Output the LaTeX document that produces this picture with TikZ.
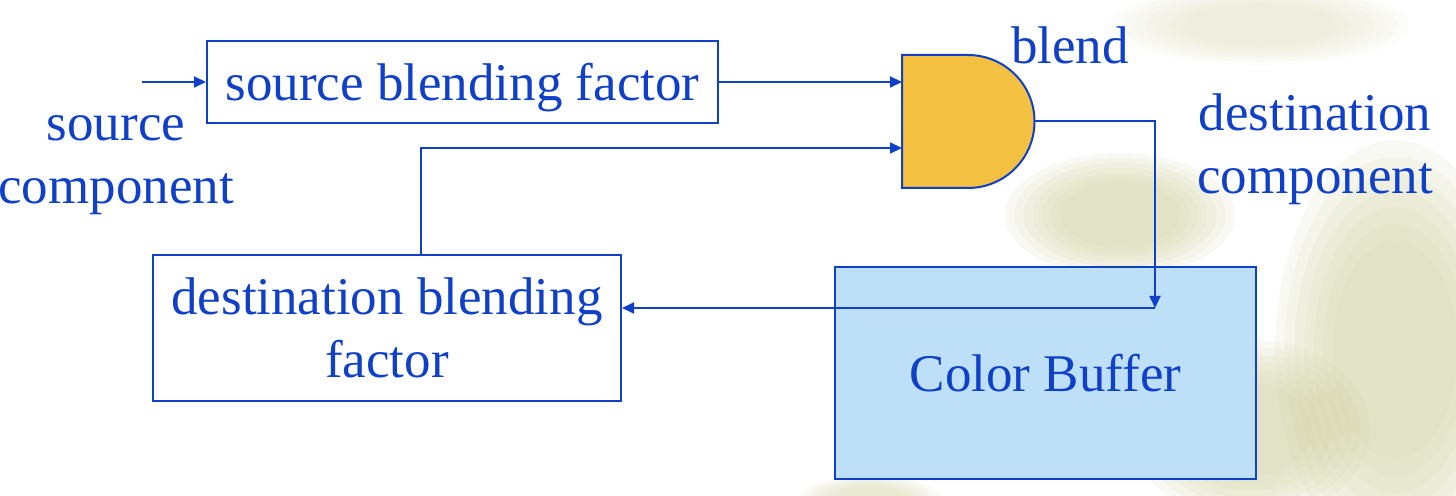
\documentclass[tikz,border=0pt]{standalone}
\usepackage{fontspec}
\setmainfont{Liberation Serif}
\usetikzlibrary{arrows.meta}
\definecolor{ink}{RGB}{16,64,200}
\definecolor{gatefill}{RGB}{244,192,66}
\definecolor{bufferfill}{RGB}{189,224,248}
\definecolor{leafbg}{RGB}{206,206,158}

\begin{document}
\begin{tikzpicture}[x=0.5pt,y=-0.5pt,
	every node/.style={inner sep=0pt,text depth=0pt,text=ink,font=\fontsize{26.5}{31.5}\selectfont},
	factorbox/.style={draw=ink,line width=1pt,fill=white,align=center},
	arr/.style={draw=ink,line width=1pt,-{Triangle[length=6pt,width=5.5pt]}},
	leaf/.style={fill=leafbg,opacity=0.12}]
	\useasboundingbox (0,0) rectangle (1456,496);
	% faint background
	\foreach \s in {1,0.92,0.84,0.76,0.68,0.6,0.52} {
		\fill[leaf] (1395,350) ellipse ({120*\s} and {210*\s});
		\fill[leaf] (1120,215) ellipse ({115*\s} and {62*\s});
		\fill[leaf] (1250,430) ellipse ({120*\s} and {90*\s});
		\fill[leaf,opacity=0.06] (1260,25) ellipse ({150*\s} and {40*\s});
		\fill[leaf,opacity=0.08] (870,496) ellipse ({70*\s} and {20*\s});
	}
	% boxes
	\node[factorbox,minimum width=255.5pt,minimum height=41pt] (sbf) at (462.5,82) {source blending factor};
	\node[factorbox,minimum width=234pt,minimum height=73pt] (dbf) at (387,328) {destination blending\\factor};
	\node[draw=ink,line width=1pt,fill=bufferfill,minimum width=210.5pt,minimum height=105.5pt] (cb) at (1045.5,373) {Color Buffer};
	% blend gate
	\draw[ink,line width=1pt,fill=gatefill] (902,55) -- (968,55) arc (90:-90:33.25pt) -- (902,188) -- cycle;
	\coordinate (gin1) at (902,82);
	\coordinate (gin2) at (902,148);
	\coordinate (gout) at (1035,121.5);
	\coordinate (srcin) at (142,82);
	\coordinate (turn) at (1155,308);
	% labels
	\node[align=center] (srclbl) at (116,160) {source\\component};
	\node (blendlbl) at (1070,45) {blend};
	\node[align=center] (dstlbl) at (1315,144) {destination\\component};
	% connectors
	\draw[arr] (srcin) -- (sbf.west);
	\draw[arr] (sbf.east) -- (gin1);
	\draw[arr] ([xshift=17pt]dbf.north) |- (gin2);
	\draw[arr] (gout) -| (turn);
	\draw[arr] (turn) -- (dbf.east |- turn);
\end{tikzpicture}
\end{document}
